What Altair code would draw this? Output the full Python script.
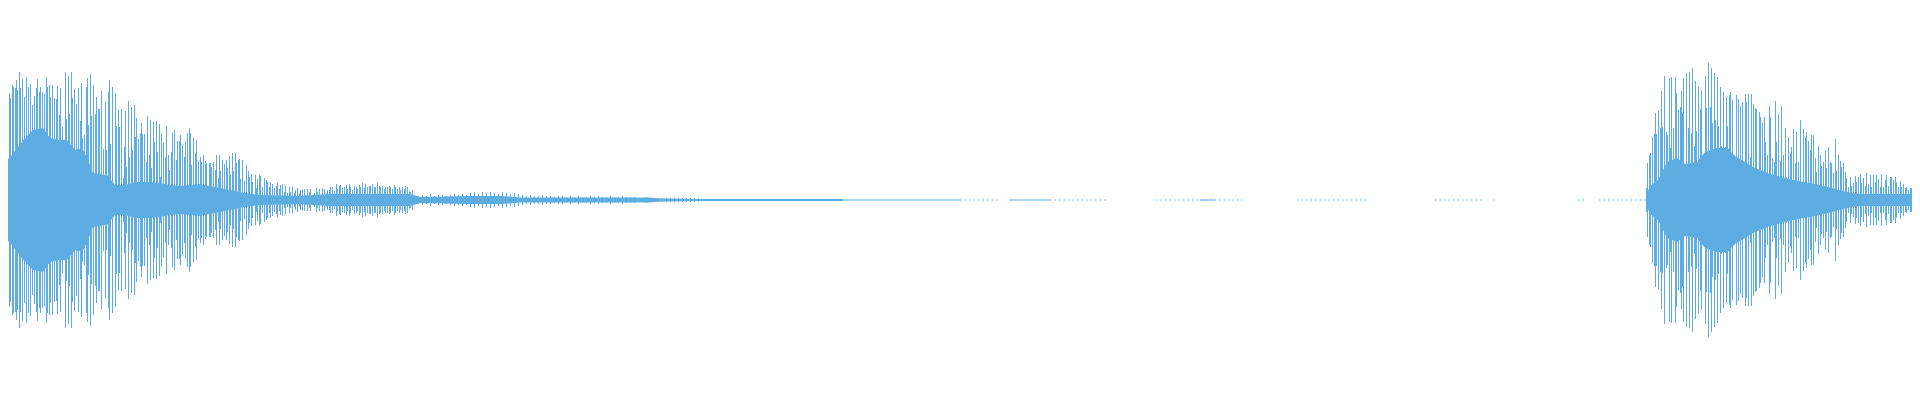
import altair as alt
import pandas as pd
import numpy as np

COLOR = "#5dade2"

# ---- outer spikes (time position in px-units, half amplitude) ----
spike_t = [0.7, 2.7, 4, 6, 7.3, 9.3, 10.7, 12.7, 13.3, 15, 16, 17.3, 19.3, 20.7, 22.7, 24, 26, 28.3, 30.7, 32.7,
           34.3, 36, 37.3, 39.3, 40.7, 42.7, 44, 46, 47.3, 49.3, 50.7, 52.7, 54, 56, 57.3, 59.3, 60.7, 62.7, 65, 66,
           68.3, 69.3, 71.7, 72.7, 74, 76, 78.3, 80, 81.7, 82.7, 84, 86, 87.3, 88.3, 90, 91.7, 93.3, 95, 96.7, 98.3,
           99.3, 101.7, 103.3, 105, 106.7, 108.3, 109.3,
           110.7, 112.3, 115.3, 116.7, 118.3, 119.3, 121.7, 123.3, 124.7, 125.3, 126.7, 128.3, 129.3, 131, 132.7, 134,
           135, 136.7, 138.3, 140, 141, 142.7, 144.3, 146, 147.3, 149, 150.3, 151.7, 153.3, 154.3, 156, 157.7, 159.3,
           160.7, 161.7, 163.3, 165, 166.7, 168.3, 169.3, 171, 172.3, 174, 176, 177.7, 179, 180.7, 182.3, 184, 185.7,
           187.3, 189, 190.7, 191.7, 193.3, 195, 196.7, 198.3, 200, 201.7, 203.3, 205, 206.7, 209, 210, 211.7, 213.3,
           215, 216.7, 218.3, 219.3,
           220.7, 222.3, 224, 226, 227.3, 229.3, 230.7, 232.3, 233.3, 235, 236, 238.3, 239.3, 240.7, 242.7, 244, 246,
           248.3, 249.3, 251.7, 252.7, 255, 256, 257.3, 259, 260.7, 262.7, 264, 266, 267.3, 269, 270.7, 272.7, 274,
           276, 277.3, 279.3, 280.7, 282.7, 284, 285.7, 287.3, 289, 290.7, 292.3, 294, 295.7, 297.3, 299, 300.7, 302.3,
           304, 305.7, 307.3, 309, 310.7, 312.3, 314.3, 316, 317.7, 319.3, 321, 322.7, 324.3, 326, 327.7, 329.3,
           330.7, 332.3, 334, 336, 337.3, 339.3, 340.7, 342.7, 344, 346, 347.3, 349.3, 350.7, 352.7, 354, 356, 357.3,
           359.3, 360.7, 362.3, 364, 365.7, 367.3, 369, 370.7, 372.3, 374, 375.7, 377.3, 379, 380.7, 382.3, 384, 385.7,
           387.3, 389, 390.7, 392.3, 394, 395.7, 397.3, 399, 400.7, 402.3, 404, 405.7, 407.3, 409, 410.7, 412.3,
           1646, 1647.3, 1649, 1650.7, 1652.3, 1654, 1655, 1656.7, 1658.3, 1660, 1661, 1662.7, 1664.3, 1666, 1667.3,
           1669, 1670, 1671.7, 1673.3, 1675, 1676.7, 1678.3, 1680, 1681, 1682.7, 1683.3, 1685, 1686.7, 1688.3, 1689.3,
           1691, 1692.7, 1694, 1695.7, 1696.7, 1698.3, 1700, 1701.7, 1703.3, 1705, 1706.7, 1708.3, 1710, 1711, 1712.7,
           1714, 1715.7, 1717.3, 1718.3, 1720, 1721.7, 1723.3, 1725, 1726, 1727.3, 1729, 1730, 1731.7, 1732.7, 1734.3,
           1736, 1738.3, 1740.7, 1742.7, 1745, 1746.7, 1748.3, 1750, 1751.7, 1753.3, 1755, 1756.7, 1759.3, 1760.7,
           1762.7, 1764, 1765.7, 1767.3, 1769, 1770.7, 1772.7, 1774, 1775.3, 1776.7, 1778.3, 1780, 1781.7, 1783.3,
           1785, 1786.7, 1788.3, 1790, 1791.7, 1793.3, 1795, 1796.7, 1798.3, 1800, 1801.7, 1803.3, 1805, 1806.7,
           1808.3, 1810, 1811.7, 1813.3, 1815, 1816.7, 1818.3, 1820, 1821.7, 1823.3, 1825, 1826.7, 1828.3, 1830,
           1831.7, 1833.3, 1835, 1836.7, 1838.3, 1840, 1841.7, 1843.3, 1845, 1846.7, 1848.3, 1850, 1851.7, 1853.3,
           1855, 1856.7, 1858.3, 1860, 1861.7, 1863.3, 1865, 1866.7, 1868.3, 1870, 1871.7, 1873.3, 1875, 1876.7,
           1878.3, 1880, 1881.7, 1883.3, 1885, 1886.7, 1888.3, 1890, 1891.7, 1893.3, 1895, 1896.7, 1898.3, 1900,
           1901.7, 1903.3, 1905, 1906.7, 1908.3, 1910, 1911.7, 1913.3, 1915, 1916.7, 1918.3, 1920]
spike_amp = [72, 100, 77, 123, 99, 107, 102, 115, 113, 112, 120, 110, 128, 112, 121, 103, 123, 113, 116, 95,
             104, 112, 121, 108, 113, 108, 106, 123, 113, 115, 103, 115, 102, 101, 114, 85, 112, 73, 128, 81,
             124, 86, 128, 102, 111, 96, 112, 79, 117, 62, 65, 113, 122, 75, 126, 84, 115, 86, 103, 91,
             91, 109, 51, 99, 50, 108, 120,
             56, 113, 107, 74, 90, 73, 91, 22, 53, 89, 33, 99, 43, 93, 50, 95,
             63, 82, 61, 67, 77, 66, 66, 38, 84, 45, 80, 32, 78, 58, 79, 48, 76,
             23, 67, 57, 43, 74, 45, 30, 48, 67, 70, 40, 59, 59, 65, 55, 43, 59,
             67, 72, 67, 35, 62, 47, 60, 39, 43, 38, 45, 39, 37, 37, 37, 33, 38,
             30, 45, 22, 45,
             29, 40, 36, 40, 32, 44, 25, 47, 29, 47, 37, 40, 41, 21, 40, 19, 35,
             29, 23, 26, 18, 25, 12, 21, 25, 24, 13, 22, 20, 18, 13, 18, 16, 12,
             14, 17, 11, 15, 16, 8, 14, 7, 13, 8, 13, 7, 10, 12, 7, 10, 11,
             11, 5, 11, 8, 11, 4, 7, 12, 8, 11, 3, 12, 11, 7, 10, 10,
             13, 13, 9, 16, 11, 14, 15, 12, 13, 15, 11, 16, 13, 10, 14, 13, 11,
             15, 13, 17, 12, 16, 13, 14, 14, 16, 13, 13, 17, 14, 13, 14, 11, 13,
             13, 14, 13, 11, 15, 13, 11, 13, 10, 13, 11, 14, 13, 9, 8, 10,
             12, 37, 45, 47, 63, 66, 87, 66, 89, 72, 109, 73, 124, 68, 65,
             122, 52, 123, 72, 123, 107, 90, 93, 109, 87, 122, 25, 127, 72, 128,
             67, 132, 54, 119, 69, 113, 91, 110, 45, 124, 92, 137, 93, 132, 77,
             127, 80, 123, 74, 113, 54, 108, 53, 103, 74, 105, 108, 46, 100, 44,
             105, 101, 94, 98, 106, 98, 106, 43, 106, 96, 92, 91, 88, 83,
             77, 83, 58, 45, 94, 83, 42, 38, 99, 58, 86, 39, 94, 45,
             72, 23, 63, 47, 53, 71, 37, 68, 38, 80, 12, 71, 63, 68,
             59, 50, 65, 65, 42, 28, 54, 45, 34, 38, 50, 32, 53, 38,
             37, 27, 61, 29, 45, 39, 33, 37, 28, 22, 13, 23, 14, 17,
             24, 18, 23, 26, 17, 22, 14, 27, 16, 25, 13, 25, 18, 25,
             21, 13, 26, 13, 20, 25, 14, 23, 23, 20, 23, 18, 13, 19,
             13, 16, 12, 13, 10, 12, 12, 8, 10, 9, 12, 12]

# ---- small spikes in the quiet tail (every 4 px from 414 to 698) ----
tail_t = list(range(414, 702, 4))
tail_amp = [5, 4, 5, 4, 6, 4, 5, 5, 4,
            5, 6, 5, 6, 5,
            7, 8, 6, 8, 7, 8, 7, 6, 8, 7, 6, 7, 6,
            5, 4, 5, 4, 4, 5, 4, 4, 3, 4,
            4, 3, 4, 3, 4, 3, 3, 4, 3, 4, 3, 3, 4, 3, 3, 4, 3, 3,
            3, 2, 2, 3, 2, 2, 2, 2, 2, 2, 2, 2, 2, 2, 2, 2, 2]

# ---- inner dense band (half amplitude) ----
band_t = [0, 5, 12, 17, 25, 33, 43, 50, 60, 67, 75, 82, 88, 93, 100, 108, 115, 125, 135, 150, 165, 180, 200,
          220, 240, 260, 300, 330, 410, 420, 470, 500, 520, 650, 660, 700, 843]
band_amp = [33, 38, 45, 52, 62, 70, 72, 62, 60, 60, 50, 52, 40, 27, 26, 24, 15, 15, 18, 18, 16, 14, 16,
            12, 8, 5, 4, 6, 6, 3, 4, 4, 2.5, 2.5, 1.5, 1, 1]
band2_t = [1646, 1650, 1658, 1667, 1677, 1685, 1697, 1705, 1717, 1728, 1735, 1753, 1770, 1793, 1820, 1847, 1860, 1920]
band2_amp = [5, 14, 20, 38, 42, 36, 38, 48, 52, 52, 44, 33, 26, 20, 15, 8, 6, 6]

# ---- near-silent stretches ----
solid_start = [843, 1009, 1200]
solid_end = [960, 1050, 1215]
dotted_start = [960, 1050, 1156, 1297, 1435, 1493, 1578, 1599]
dotted_end = [998, 1108, 1245, 1366, 1482, 1495, 1586, 1646]

spikes = pd.DataFrame({"t": spike_t + tail_t, "amp": spike_amp + tail_amp})
spikes["px"] = np.floor(spikes["t"]) + 0.5
spikes["lo"] = -spikes["amp"]
band1 = pd.DataFrame({"t": band_t, "amp": band_amp})
band1["lo"] = -band1["amp"]
band2 = pd.DataFrame({"t": band2_t, "amp": band2_amp})
band2["lo"] = -band2["amp"]
solid = pd.DataFrame({"s": solid_start, "e": solid_end, "y": [0] * len(solid_start)})
dotted = pd.DataFrame({"s": dotted_start, "e": dotted_end, "y": [0] * len(dotted_start)})

xs = alt.Scale(domain=[8, 1912])
ys = alt.Scale(domain=[-192, 192])


def X(f):
    return alt.X(f, type="quantitative", scale=xs, axis=None)


def Y(f):
    return alt.Y(f, type="quantitative", scale=ys, axis=None)


area1 = alt.Chart(band1).mark_area(color=COLOR, clip=True).encode(x=X("t"), y=Y("amp"), y2="lo")
area2 = alt.Chart(band2).mark_area(color=COLOR, clip=True).encode(x=X("t"), y=Y("amp"), y2="lo")
rules = alt.Chart(spikes).mark_rule(color=COLOR, strokeWidth=1, clip=True).encode(x=X("px"), y=Y("amp"), y2="lo")
line_solid = alt.Chart(solid).mark_rule(color=COLOR, strokeWidth=1, clip=True).encode(
    x=X("s"), x2="e", y=Y("y"))
line_dot = alt.Chart(dotted).mark_rule(color=COLOR, strokeWidth=1, strokeDash=[1.5, 3], clip=True).encode(
    x=X("s"), x2="e", y=Y("y"))

chart = alt.layer(area1, area2, rules, line_solid, line_dot).properties(
    width=1904, height=384, padding=0
).configure(background="white").configure_view(stroke=None)

chart.save("out.html", embed_options={"renderer": "svg", "actions": False})
